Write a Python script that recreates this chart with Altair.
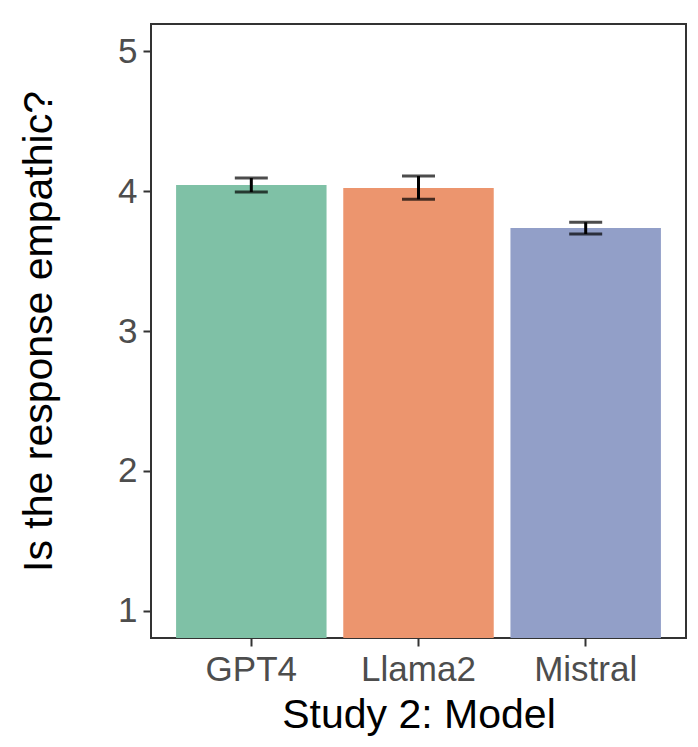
import altair as alt
import pandas as pd

models = ["GPT4", "Llama2", "Mistral"]
means = [4.043, 4.021, 3.736]
lower = [3.993, 3.941, 3.693]
upper = [4.093, 4.107, 3.777]
colors = ["#7fc1a6", "#ec956e", "#929fc8"]

df = pd.DataFrame({"model": models, "mean": means, "lo": lower, "hi": upper, "base": [0.0] * 3})

yscale = alt.Scale(domain=[0.807, 5.193], nice=False, zero=False)
xenc = alt.X("model:N", sort=models, title="Study 2: Model",
             scale=alt.Scale(paddingInner=0.1, paddingOuter=0.15),
             axis=alt.Axis(labelAngle=0, labelFontSize=35, labelColor="#4d4d4d",
                           labelFont="Liberation Sans", titleFont="Liberation Sans",
                           titleFontSize=41, titleFontWeight="normal", titleColor="#000000",
                           tickColor="#333333", tickWidth=2, tickSize=8, labelPadding=6,
                           titlePadding=8, domain=False, grid=False))

bars = alt.Chart(df).mark_bar(clip=True).encode(
    x=xenc,
    y=alt.Y("mean:Q", scale=yscale, title="Is the response empathic?",
            axis=alt.Axis(values=[1, 2, 3, 4, 5], format="d", labelFontSize=35, labelColor="#4d4d4d",
                          labelFont="Liberation Sans", titleFont="Liberation Sans",
                          titleFontSize=41, titleFontWeight="normal", titleColor="#000000",
                          tickColor="#333333", tickWidth=2, tickSize=8, labelPadding=6,
                          titlePadding=57, domain=False, grid=False)),
    y2="base:Q",
    color=alt.Color("model:N", scale=alt.Scale(domain=models, range=colors), legend=None),
)

rules = alt.Chart(df).mark_rule(color="black", strokeWidth=3).encode(
    x=alt.X("model:N", sort=models), y=alt.Y("lo:Q", scale=yscale), y2="hi:Q")
caps_lo = alt.Chart(df).mark_tick(color="black", thickness=3, size=33, orient="horizontal").encode(
    x=alt.X("model:N", sort=models), y=alt.Y("lo:Q", scale=yscale))
caps_hi = alt.Chart(df).mark_tick(color="black", thickness=3, size=33, orient="horizontal").encode(
    x=alt.X("model:N", sort=models), y=alt.Y("hi:Q", scale=yscale))

chart = alt.layer(bars, rules, caps_lo, caps_hi).properties(
    width=535, height=614,
    autosize=alt.AutoSizeParams(type="none"),
    padding={"left": 143, "top": 16, "right": 4, "bottom": 101},
    background="white",
).configure_view(stroke="#333333", strokeWidth=2)

chart.save("out.html", embed_options={"renderer": "svg", "actions": False})
